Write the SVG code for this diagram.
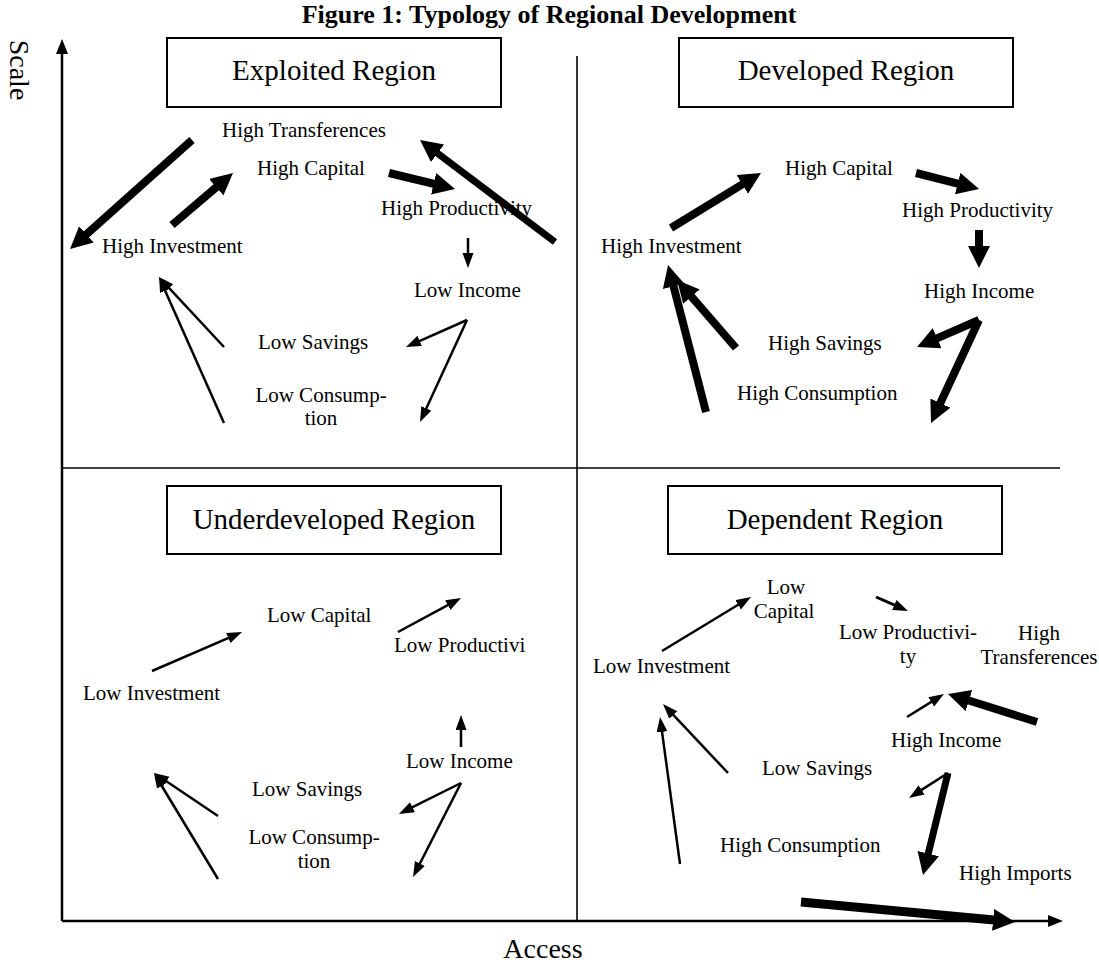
<svg xmlns="http://www.w3.org/2000/svg" width="1099" height="963" viewBox="0 0 1099 963">
<style>
text{font-family:"Liberation Serif","Times New Roman",serif;fill:#000}
.t{font-size:21px}
.bt{font-size:29px;text-anchor:middle}
.box{fill:#fff;stroke:#000;stroke-width:2}
.ax{stroke:#000;stroke-width:2.5;fill:none}
.dv{stroke:#000;stroke-width:1.6;fill:none}
.th{stroke:#000;stroke-width:2.5;fill:none;marker-end:url(#hs)}
.tk{stroke:#000;stroke-width:8;fill:none;marker-end:url(#hb)}
</style>
<defs>
<marker id="hs" markerUnits="userSpaceOnUse" markerWidth="16" markerHeight="12" refX="1" refY="5.5" orient="auto"><path d="M0,0 L15,5.5 L0,11 z" fill="#000"/></marker>
<marker id="hb" markerUnits="userSpaceOnUse" markerWidth="24" markerHeight="24" refX="1" refY="11" orient="auto"><path d="M0,0 L22,11 L0,22 z" fill="#000"/></marker>
</defs>
<rect width="1099" height="963" fill="#fff"/>
<text x="549" y="23" style="font-size:26px;font-weight:bold;text-anchor:middle">Figure 1: Typology of Regional Development</text>
<g id="axes">
<line class="ax" x1="62" y1="921" x2="62" y2="52"/>
<polygon points="62,39 56,54 68,54" fill="#000"/>
<line class="ax" x1="62" y1="921" x2="1049" y2="921"/>
<polygon points="1063,921 1048,915 1048,927" fill="#000"/>
<line class="dv" x1="577" y1="56" x2="577" y2="921"/>
<line class="dv" x1="62" y1="468" x2="1060" y2="468"/>
<text transform="translate(10,70) rotate(90)" style="font-size:28px;text-anchor:middle">Scale</text>
<text x="543" y="958" style="font-size:28px;text-anchor:middle">Access</text>
</g>
<g id="exploited">
<g id="box-exploited"><rect class="box" x="167" y="38" width="334" height="69"/><text class="bt" x="334" y="80">Exploited Region</text></g>
<text id="q1-transferences" class="t" x="222" y="137">High Transferences</text>
<text id="q1-capital" class="t" x="257" y="175">High Capital</text>
<text id="q1-productivity" class="t" x="381" y="215">High Productivity</text>
<text id="q1-investment" class="t" x="102" y="253">High Investment</text>
<text id="q1-income" class="t" x="414" y="297">Low Income</text>
<text id="q1-savings" class="t" x="258" y="349">Low Savings</text>
<text id="q1-consumption" class="t" x="321" y="402" style="text-anchor:middle">Low Consump-<tspan x="321" y="425">tion</tspan></text>
</g>
<g id="developed">
<g id="box-developed"><rect class="box" x="679" y="38" width="334" height="69"/><text class="bt" x="846" y="80">Developed Region</text></g>
<text id="q2-capital" class="t" x="785" y="175">High Capital</text>
<text id="q2-productivity" class="t" x="902" y="217">High Productivity</text>
<text id="q2-investment" class="t" x="601" y="253">High Investment</text>
<text id="q2-income" class="t" x="924" y="298">High Income</text>
<text id="q2-savings" class="t" x="768" y="350">High Savings</text>
<text id="q2-consumption" class="t" x="737" y="400">High Consumption</text>
</g>
<g id="underdeveloped">
<g id="box-underdeveloped"><rect class="box" x="167" y="486" width="334" height="68"/><text class="bt" x="334" y="529">Underdeveloped Region</text></g>
<text id="q3-capital" class="t" x="267" y="622">Low Capital</text>
<text id="q3-productivity" class="t" x="394" y="652">Low Productivi</text>
<text id="q3-investment" class="t" x="83" y="700">Low Investment</text>
<text id="q3-income" class="t" x="406" y="768">Low Income</text>
<text id="q3-savings" class="t" x="252" y="796">Low Savings</text>
<text id="q3-consumption" class="t" x="314" y="844" style="text-anchor:middle">Low Consump-<tspan x="314" y="868">tion</tspan></text>
</g>
<g id="dependent">
<g id="box-dependent"><rect class="box" x="668" y="486" width="334" height="68"/><text class="bt" x="835" y="529">Dependent Region</text></g>
<text id="q4-capital" class="t" x="786" y="594" style="text-anchor:middle">Low<tspan x="784" y="618">Capital</tspan></text>
<text id="q4-productivity" class="t" x="908" y="639" style="text-anchor:middle">Low Productivi-<tspan x="908" y="663">ty</tspan></text>
<text id="q4-transferences" class="t" x="1039" y="640" style="text-anchor:middle">High<tspan x="1039" y="664">Transferences</tspan></text>
<text id="q4-investment" class="t" x="593" y="673">Low Investment</text>
<text id="q4-income" class="t" x="891" y="747">High Income</text>
<text id="q4-savings" class="t" x="762" y="775">Low Savings</text>
<text id="q4-consumption" class="t" x="720" y="852">High Consumption</text>
<text id="q4-imports" class="t" x="959" y="880">High Imports</text>
</g>
<g id="connectors">
<line class="tk" x1="192" y1="140" x2="85.7" y2="235"/>
<line class="tk" x1="172" y1="225" x2="217" y2="186.6"/>
<line class="tk" x1="389" y1="173" x2="434.6" y2="184"/>
<line class="tk" style="stroke-width:7" x1="555" y1="242" x2="436.8" y2="152.7"/>
<line class="th" x1="468" y1="238" x2="468" y2="254"/>
<line class="th" x1="467" y1="320" x2="418.8" y2="341.3"/>
<line class="th" x1="467" y1="320" x2="425.9" y2="409.3"/>
<line class="th" x1="224" y1="347" x2="168.5" y2="287.3"/>
<line class="th" x1="224" y1="423" x2="164.7" y2="289.8"/>
<line class="tk" x1="671" y1="228" x2="743.1" y2="183.9"/>
<line class="tk" x1="916" y1="173" x2="958.7" y2="183.8"/>
<line class="tk" x1="979" y1="230" x2="979" y2="247"/>
<line class="tk" x1="979" y1="320" x2="936.3" y2="338.6"/>
<line class="tk" x1="979" y1="320" x2="939.9" y2="404"/>
<line class="tk" x1="706" y1="412" x2="673.3" y2="285.3"/>
<line class="tk" x1="736" y1="348" x2="690.8" y2="295.9"/>
<line class="th" x1="152" y1="671" x2="229.2" y2="637.6"/>
<line class="th" x1="398" y1="632" x2="448.7" y2="604.7"/>
<line class="th" x1="461" y1="747" x2="461" y2="729"/>
<line class="th" x1="461" y1="783" x2="411.5" y2="807.7"/>
<line class="th" x1="461" y1="783" x2="419.4" y2="864.5"/>
<line class="th" x1="218" y1="816" x2="165.6" y2="780.8"/>
<line class="th" x1="218" y1="879" x2="161.2" y2="785"/>
<line class="th" x1="662" y1="651" x2="739" y2="604.3"/>
<line class="th" style="stroke-width:3" x1="876" y1="597" x2="895.2" y2="605.4"/>
<line class="th" x1="907" y1="717" x2="932.1" y2="701.4"/>
<line class="tk" x1="1037" y1="722" x2="968" y2="700.3"/>
<line class="th" x1="728" y1="773" x2="672.6" y2="714.2"/>
<line class="th" x1="680" y1="864" x2="661.9" y2="730.9"/>
<line class="th" x1="948" y1="773" x2="920.8" y2="790.4"/>
<line class="tk" style="stroke-width:7" x1="948" y1="773" x2="928" y2="854.6"/>
<line class="tk" style="stroke-width:9" x1="801" y1="902" x2="994.1" y2="920"/>
</g>
</svg>
